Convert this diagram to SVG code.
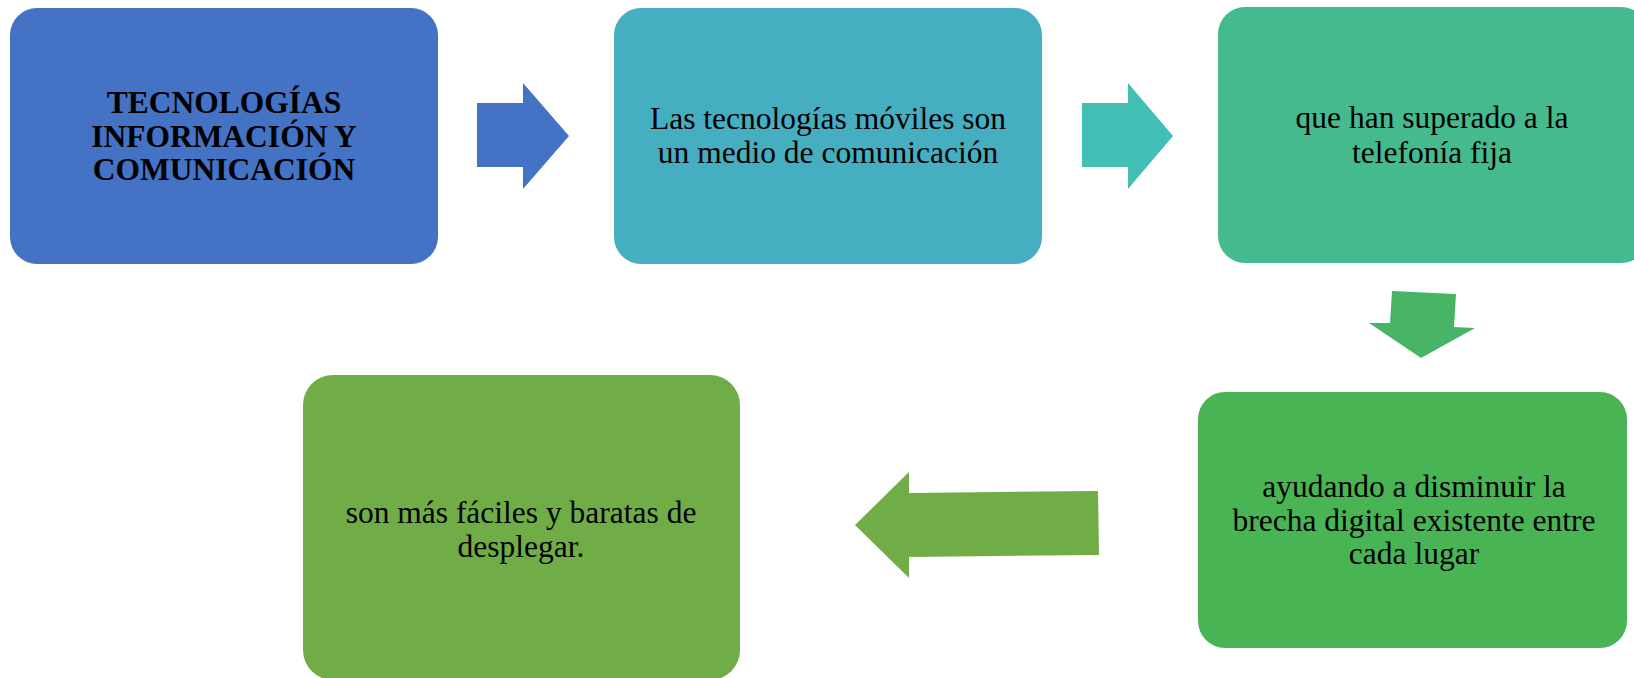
<svg xmlns="http://www.w3.org/2000/svg" width="1634" height="678" viewBox="0 0 1634 678">
<style>
.t{font-family:"Liberation Serif","Times New Roman",serif;font-size:31.5px;fill:#000;text-anchor:middle}
.b{font-weight:bold}
</style>
<rect width="1634" height="678" fill="#fff"/>
<g id="n1">
<rect x="10" y="8" width="428" height="256" rx="27" fill="#4472C4"/>
<text class="t b" x="224" y="113">TECNOLOGÍAS</text>
<text class="t b" x="224" y="147">INFORMACIÓN Y</text>
<text class="t b" x="224" y="180">COMUNICACIÓN</text>
</g>
<g id="n2">
<rect x="614" y="8" width="428" height="256" rx="27" fill="#45AEC1"/>
<text class="t" x="828" y="129">Las tecnologías móviles son</text>
<text class="t" x="828" y="163">un medio de comunicación</text>
</g>
<g id="n3">
<rect x="1218" y="7" width="430" height="256" rx="27" fill="#44BA8E"/>
<text class="t" x="1432" y="128">que han superado a la</text>
<text class="t" x="1432" y="163">telefonía fija</text>
</g>
<g id="n4">
<rect x="1198" y="392" width="429" height="256" rx="27" fill="#48B454"/>
<text class="t" x="1414" y="497">ayudando a disminuir la</text>
<text class="t" x="1414" y="531">brecha digital existente entre</text>
<text class="t" x="1414" y="564">cada lugar</text>
</g>
<g id="n5">
<rect x="303" y="375" width="437" height="305" rx="30" fill="#70AD47"/>
<text class="t" x="521" y="523">son más fáciles y baratas de</text>
<text class="t" x="521" y="557">desplegar.</text>
</g>
<g id="connectors">
<polygon points="477,103 523,103 523,83 569,136 523,189 523,167 477,167" fill="#4472C4"/>
<polygon points="1082,103 1128,103 1128,83 1173,136 1128,189 1128,167 1082,167" fill="#43BFB6"/>
<polygon points="1392,291 1456,294 1454,327 1475,328 1421,358 1369,323 1390,323" fill="#48B466"/>
<polygon points="1098,491 1099,555 909,557 909,578 855,525 909,472 909,493" fill="#70AD47"/>
</g>
</svg>
